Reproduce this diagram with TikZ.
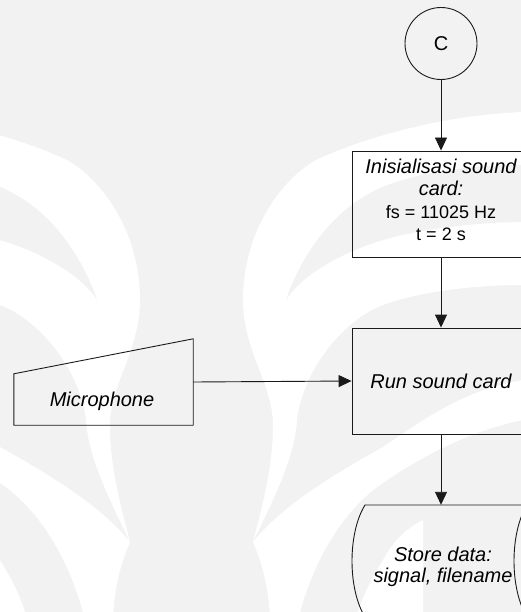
\documentclass[tikz,border=0pt]{standalone}
\usepackage{fontspec}
\setmainfont{Liberation Sans}
\usetikzlibrary{arrows.meta}

\definecolor{wmgray}{HTML}{F2F2F2}
\definecolor{ink}{HTML}{1A1A1A}

% text styles
\newcommand{\bigit}{\fontsize{20}{22.5}\selectfont\itshape}
\newcommand{\bigup}{\fontsize{18}{22.5}\selectfont}

\tikzset{
  wmband/.style={fill=white, draw=none},
  conn/.style={draw=ink, line width=0.9pt, -{Triangle[length=13pt,width=12pt]}},
  outline/.style={draw=ink, line width=0.9pt},
  procbox/.style={outline, rectangle, inner sep=0pt,
    minimum width=178pt, minimum height=106pt},
  plain/.style={inner sep=0pt, outer sep=0pt, align=center},
}

\begin{document}
\begin{tikzpicture}[x=1pt, y=-1pt]
  \useasboundingbox (0,0) rectangle (521,612);
  \clip (0,0) rectangle (521,612);

  % watermark background, symmetric about x = 191.5
  \fill[wmgray] (0,0) rectangle (521,612);
  \foreach \flip/\shift in {1/0, -1/383} {
    \begin{scope}[xshift=\shift pt, xscale=\flip]
      \fill[wmband]
        (-140,112) .. controls (-60,115) and (20,138) .. (67,160)
        .. controls (105,182) and (140,235) .. (140,300)
        .. controls (140,350) and (110,385) .. (110,425)
        .. controls (110,470) and (122,510) .. (130,542)
        .. controls (115,510) and (88,460) .. (86,420)
        .. controls (80,370) and (40,320) .. (0,305)
        .. controls (-40,290) and (-100,285) .. (-140,285) -- cycle;
      \fill[wmgray]
        (-140,165) .. controls (-100,165) and (-40,170) .. (0,187)
        .. controls (45,205) and (80,250) .. (97,300)
        .. controls (85,280) and (50,255) .. (0,240)
        .. controls (-40,228) and (-100,222) .. (-140,222) -- cycle;
      \fill[wmband]
        (-140,380) .. controls (-80,390) and (-40,420) .. (0,447)
        .. controls (50,475) and (100,505) .. (130,542)
        .. controls (120,565) and (114,590) .. (113,620)
        -- (85,620)
        .. controls (70,560) and (40,510) .. (0,483)
        .. controls (-40,455) and (-90,430) .. (-140,420) -- cycle;
      \fill[wmband]
        (-40,520) .. controls (-20,530) and (-8,545) .. (0,560)
        .. controls (12,580) and (22,598) .. (27,620) -- (-40,620) -- cycle;
    \end{scope}
  }

  % connector symbol
  \node[outline, circle, minimum size=72pt, inner sep=0pt,
    font=\fontsize{20}{23}\selectfont] (conn) at (441,43.5) {C};

  % initialisation step
  \node[procbox] (init) at (441,204) {};
  \node[plain, font=\bigup] (inittext) at (441,200)
    {{\bigit Inisialisasi sound}\\{\bigit card:}\\fs = 11025 Hz\\t = 2 s};

  % recording step
  \node[procbox, font=\bigit] (run) at (441,381) {Run sound card};

  % manual input
  \node[rectangle, inner sep=0pt, minimum width=179pt, minimum height=86pt]
    (mic) at (103.5,382) {};
  \draw[outline] (mic.south west) -- (mic.south east) -- (mic.north east)
    -- ([yshift=-35pt]mic.north west) -- cycle;
  \node[plain, font=\bigit] (mictext) at (102,401) {Microphone};

  % stored data
  \node[rectangle, inner sep=0pt, minimum width=175pt, minimum height=112pt]
    (store) at (439.5,561) {};
  \draw[outline] (365,505) -- (527,505)
    .. controls (509.67,533) and (509.67,589) .. (527,617)
    -- (365,617)
    .. controls (347.67,589) and (347.67,533) .. (365,505) -- cycle;
  \node[plain, font=\fontsize{20}{20.5}\selectfont\itshape] (storetext) at (443,567)
    {Store data:\\signal, filename};

  % flow
  \draw[conn] (conn.south) -- (init.north);
  \draw[conn] (init.south) -- (run.north);
  \draw[conn] (mic.east) -- (run.west);
  \draw[conn] (run.south) -- (run.south |- store.north);
\end{tikzpicture}
\end{document}
